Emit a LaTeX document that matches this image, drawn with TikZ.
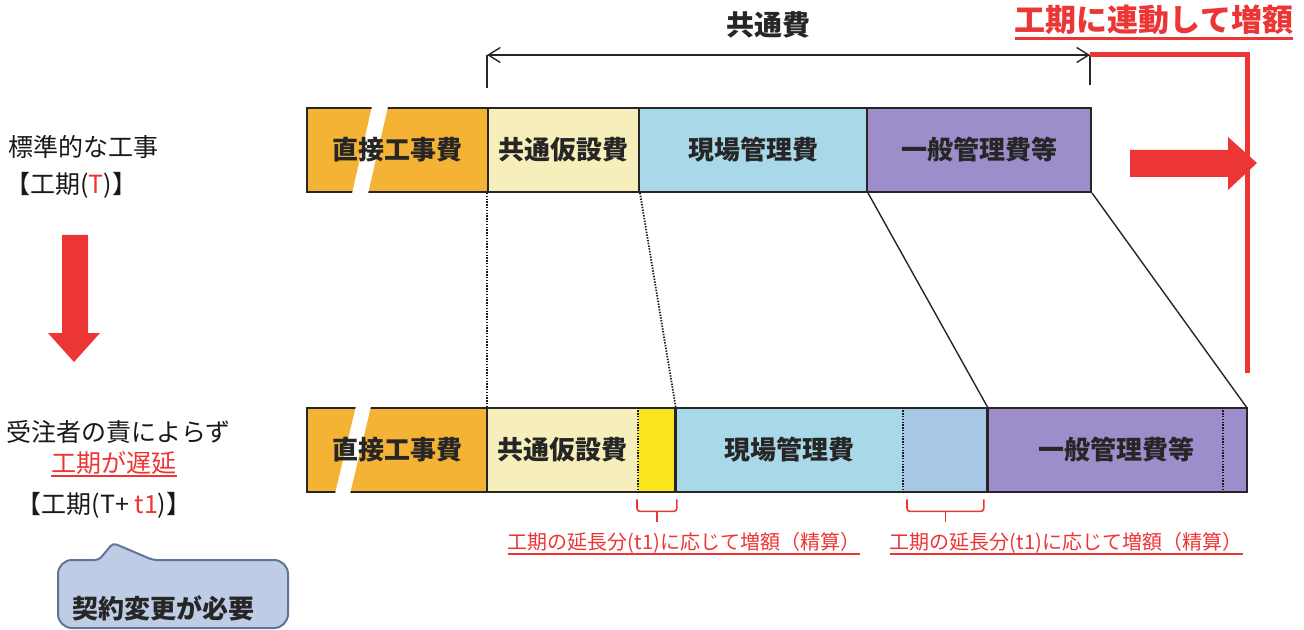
\documentclass[tikz,border=0pt]{standalone}
\usepackage{fontspec}
\setmainfont{Noto Sans CJK JP}
\usepackage{xcolor}
\usetikzlibrary{arrows, arrows.meta}
\usetikzlibrary{positioning}
\usetikzlibrary{calc}
\definecolor{kojiorange}{HTML}{F5B335}
\definecolor{kasetsu}{HTML}{F7EFBB}
\definecolor{kasetsuext}{HTML}{F9E51E}
\definecolor{genba}{HTML}{A9D8E8}
\definecolor{genbaext}{HTML}{A7C7E6}
\definecolor{ippan}{HTML}{9E8DCB}
\definecolor{tred}{HTML}{EC3535}
\definecolor{calloutfill}{HTML}{BECDE5}
\definecolor{calloutline}{HTML}{5F7597}

\begin{document}
\begin{tikzpicture}[x=0.5pt,y=-0.5pt,>=Stealth,
		seg/.style={fill=#1, anchor=west, minimum height=42pt, inner sep=0pt},
		barline/.style={draw=black!85, line width=1pt},
		label/.style={font=\fontsize{13}{15}\selectfont\bfseries, text=black!85},
		plain/.style={inner sep=0pt, font=\fontsize{12.5}{15}\selectfont, text=black!90},
		link/.style={black!85, line width=0.7pt},
		dots/.style={black!90, line width=0.9pt, dash pattern=on 0.7pt off 0.7pt},
		redfill/.style={fill=tred},
		brace/.style={tred, line width=0.8pt, rounded corners=1.5pt},
		note/.style={inner sep=0pt, font=\fontsize{10}{12}\selectfont, text=tred}]
				\useasboundingbox (0,0) rectangle (1304,630);
				
				% draw top bar
				\node[seg=kojiorange, barline, minimum width=90.5pt] (tdir) at (306,150) {};
				\fill[white] (373,102) -- (389,102) -- (367,198) -- (351,198) -- cycle;
				\node[label] at (tdir) {直接工事費};
				\node[seg=kasetsu, barline, label, minimum width=75.5pt] (tkyo) at (487,150) {共通仮設費};
				\node[seg=genba, barline, label, minimum width=114pt] (tgen) at (638,150) {現場管理費};
				\node[seg=ippan, barline, label, minimum width=112pt] (tippan) at (866,150) {一般管理費等};
				
				% draw bottom bar
				\node[seg=kojiorange, barline, minimum width=90.5pt] (bdir) at (306,450) {};
				\fill[white] (357,402) -- (372,402) -- (349,498) -- (334,498) -- cycle;
				\node[label] at (bdir) {直接工事費};
				\node[seg=kasetsu, label, minimum width=75.5pt] (bkyo) at (487,450) {共通仮設費};
				\node[seg=kasetsuext, minimum width=18.5pt] (bkyoext) at (638,450) {};
				\node[seg=genba, label, minimum width=114pt] (bgen) at (675,450) {現場管理費};
				\node[seg=genbaext, minimum width=42pt] (bgenext) at (903,450) {};
				\node[seg=ippan, label, minimum width=129.5pt] (bippan) at (987,450) {一般管理費等};
				\draw[barline] (bkyo.north west) rectangle (bkyoext.south east);
				\draw[barline] (bgen.north west) rectangle (bgenext.south east);
				\draw[barline] (bippan.north west) rectangle (bippan.south east);
				\draw[dots] (bkyoext.north west) -- (bkyoext.south west);
				\draw[dots] (bgenext.north west) -- (bgenext.south west);
				\draw[dots] ($(bippan.north east)+(-24,0)$) -- ($(bippan.south east)+(-24,0)$);
				
				% draw links between bars
				\draw[dots] (tkyo.south west) -- (bkyo.north west);
				\draw[dots] (tkyo.south east) -- (bkyoext.north east);
				\draw[link] (tgen.south east) -- (bgenext.north east);
				\draw[link] (tippan.south east) -- (bippan.north east);
				
				% draw common cost span
				\coordinate (kyoL) at (487,55);
				\coordinate (kyoR) at (1090,55);
				\draw[link, {Straight Barb[length=6pt,width=7.5pt]}-{Straight Barb[length=6pt,width=7.5pt]}] (kyoL) -- (kyoR);
				\draw[link] (kyoL) -- ++(0,33);
				\draw[link] (kyoR) -- ++(0,30);
				\node[font=\fontsize{14}{16}\selectfont\bfseries, text=black!85] (kyotsu) at (768,25) {共通費};
				
				% draw red increase line and arrows
				\node[inner sep=0pt, font=\fontsize{15.5}{18}\selectfont\bfseries, text=tred] (rendo) at (1154,20) {工期に連動して増額};
				\draw[tred, line width=1.3pt] ([yshift=-1.5pt]rendo.south west) -- ([yshift=-1.5pt]rendo.south east);
				\draw[tred, line width=2.5pt] (kyoR) -- (1247,55) -- (1247,373);
				\fill[redfill] (1130,150) -- (1228,150) -- (1228,137) -- (1257,163) -- (1228,190) -- (1228,177) -- (1130,177) -- cycle;
				\fill[redfill] (62,235) -- (88,235) -- (88,333) -- (100,333) -- (74,362) -- (48,333) -- (62,333) -- cycle;
				
				% draw left texts
				\node[plain, anchor=west] (hyojun) at (8,147) {標準的な工事};
				\node[plain, anchor=west] (kikanT) at (5,185) {【工期(\textcolor{tred}{T})】};
				\node[plain, anchor=west] (jutyu) at (6,432) {受注者の責によらず};
				\node[plain, text=tred] (chien) at (114,463) {工期が遅延};
				\draw[tred, line width=0.6pt] ([yshift=-0.5pt]chien.south west) -- ([yshift=-0.5pt]chien.south east);
				\node[plain] (kikanTt) at (104,505) {【工期(T+ \textcolor{tred}{t1})】};
				
				% draw callout
				\filldraw[fill=calloutfill, draw=calloutline, line width=1pt] (58,628) [rounded corners=7pt] -- (58,560) [rounded corners=2pt] -- (99,560) -- (113,543) -- (153,560) [rounded corners=7pt] -- (288,560) -- (288,628) -- cycle;
				\node[font=\fontsize{13}{15}\selectfont\bfseries, text=black!85] (hitsuyo) at (163,608) {契約変更が必要};
				
				% draw braces and notes
				\draw[brace] ($(bkyoext.south west)+(-1,7)$) -- ++(0,12) -- ($(bkyoext.south east)+(1,19)$) -- ++(0,-12);
				\draw[brace] ($(bkyoext.south)+(0,19)$) -- ++(0,11);
				\node[note] (nobi1) at (684,543) {工期の延長分(t1)に応じて増額（精算）};
				\draw[tred, line width=0.6pt] (nobi1.south west) -- (nobi1.south east);
				\draw[brace] ($(bgenext.south west)+(4,7)$) -- ++(0,12) -- ($(bgenext.south east)+(-4,19)$) -- ++(0,-12);
				\draw[brace] ($(bgenext.south)+(0,19)$) -- ++(0,11);
				\node[note] (nobi2) at (1066,543) {工期の延長分(t1)に応じて増額（精算）};
				\draw[tred, line width=0.6pt] (nobi2.south west) -- (nobi2.south east);
			\end{tikzpicture}
\end{document}
